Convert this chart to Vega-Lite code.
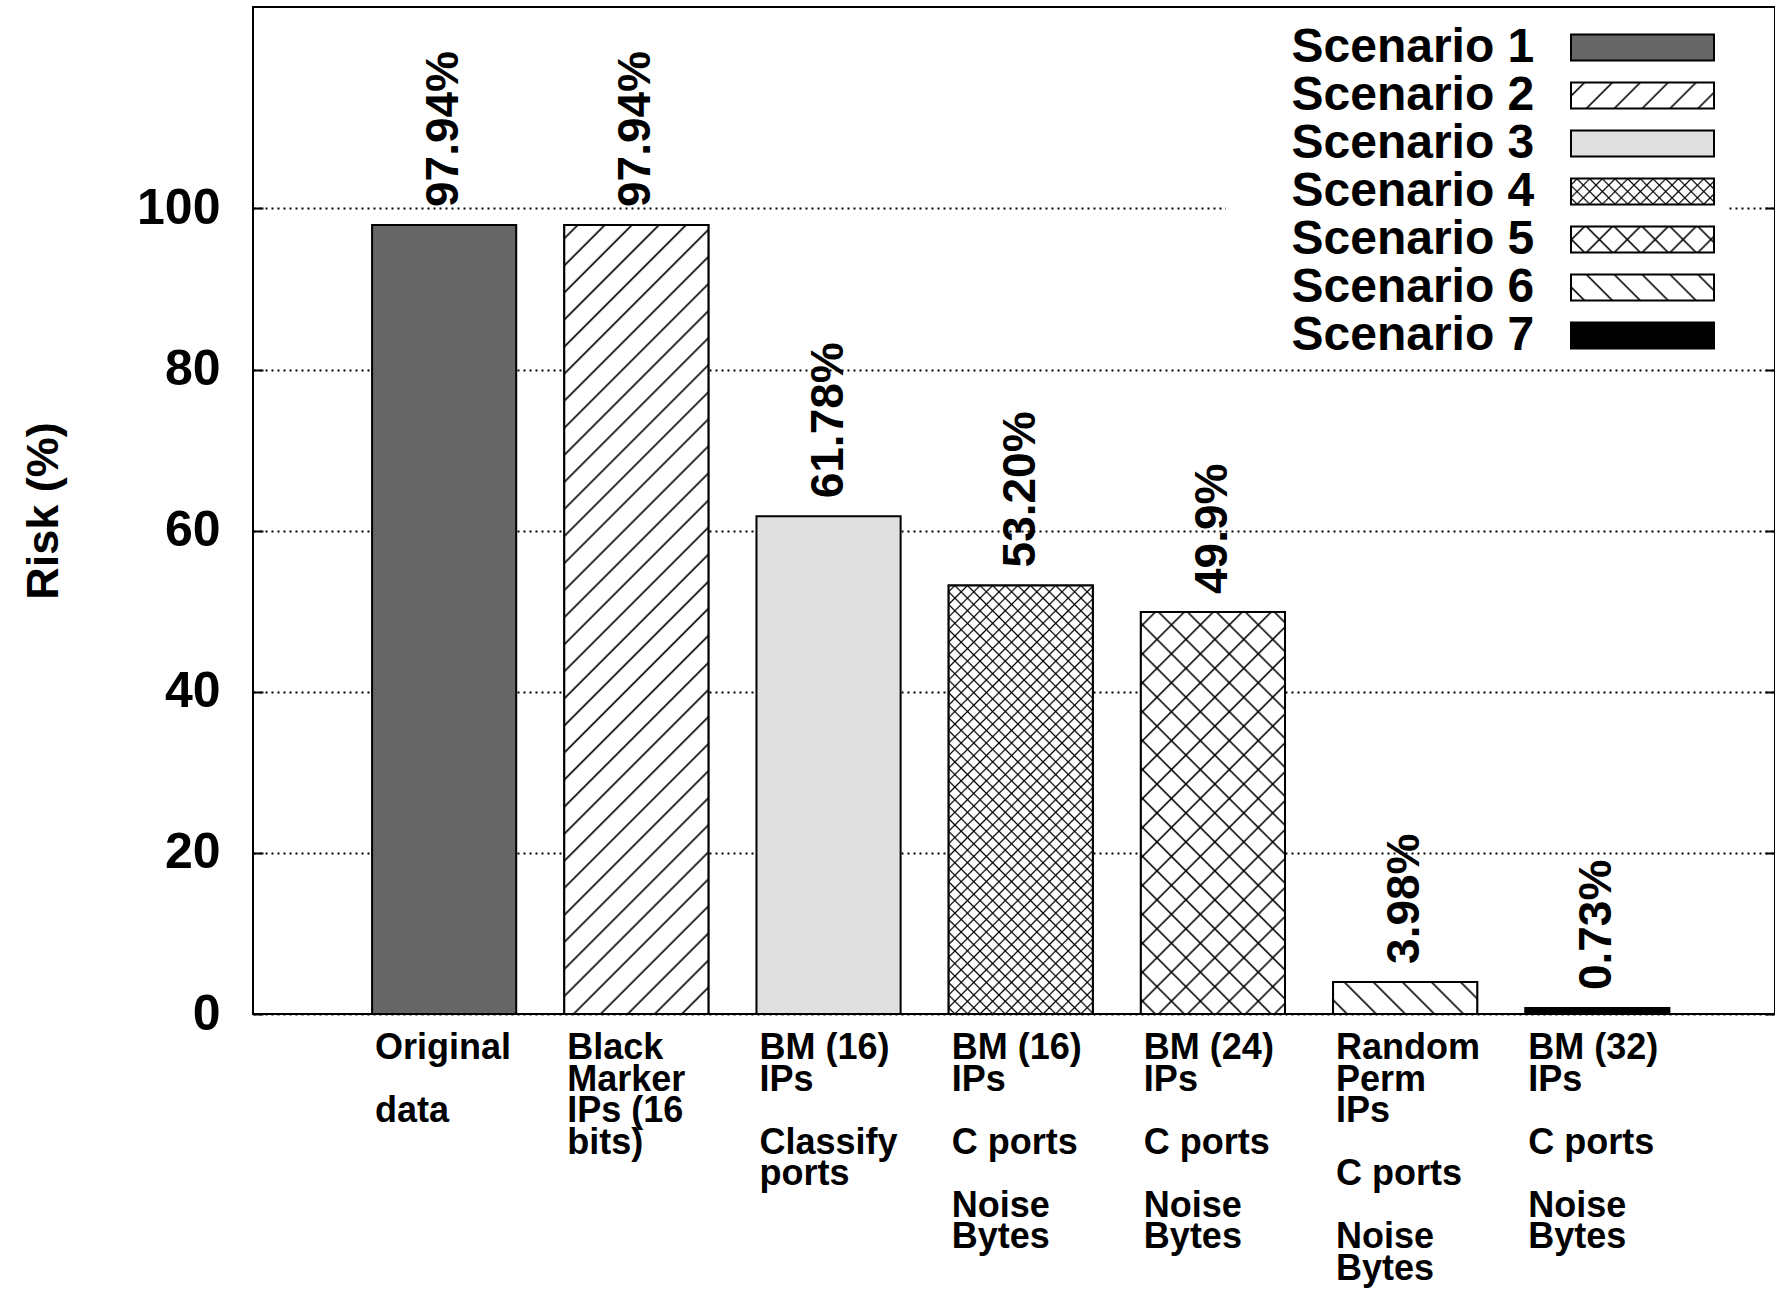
{
"$schema":"https://vega.github.io/schema/vega-lite/v6.json",
"width":1522,"height":1007,
"autosize":{"type":"none"},
"padding":{"left":253,"top":7,"right":0,"bottom":276},
"background":"white",
"config":{"view":{"stroke":"#000","strokeWidth":2},"text":{"font":"Liberation Sans"}},
"data":{"values":[
{"scenario":"Scenario 1","value":97.94,"text":"97.94%","label":["Original","\u2800","data"]},
{"scenario":"Scenario 2","value":97.94,"text":"97.94%","label":["Black","Marker","IPs (16","bits)"]},
{"scenario":"Scenario 3","value":61.78,"text":"61.78%","label":["BM (16)","IPs","\u2800","Classify","ports"]},
{"scenario":"Scenario 4","value":53.2,"text":"53.20%","label":["BM (16)","IPs","\u2800","C ports","\u2800","Noise","Bytes"]},
{"scenario":"Scenario 5","value":49.9,"text":"49.9%","label":["BM (24)","IPs","\u2800","C ports","\u2800","Noise","Bytes"]},
{"scenario":"Scenario 6","value":3.98,"text":"3.98%","label":["Random","Perm","IPs","\u2800","C ports","\u2800","Noise","Bytes"]},
{"scenario":"Scenario 7","value":0.73,"text":"0.73%","label":["BM (32)","IPs","\u2800","C ports","\u2800","Noise","Bytes"]}
]},
"resolve":{"scale":{"fill":"independent"},"legend":{"fill":"independent"},"axis":{"y":"independent"}},
"layer":[
{"mark":{"type":"bar","stroke":"#000","strokeWidth":2},
 "encoding":{
  "x":{"field":"scenario","type":"nominal","scale":{"paddingInner":0.25,"paddingOuter":0.5845,"align":0.53},"axis":null},
  "y":{"field":"value","type":"quantitative","scale":{"domain":[0,125],"nice":false,"zero":true},
       "axis":{"orient":"left","values":[0,20,40,60,80,100],"title":"Risk (%)","grid":true,"gridColor":"#000","gridDash":[2,4],"gridWidth":2,
               "tickSize":-10,"tickColor":"#000","tickWidth":2,"domain":false,
               "labelFont":"Liberation Sans","labelFontSize":50,"labelFontWeight":"bold","labelColor":"#000","labelPadding":43,
               "titleFont":"Liberation Sans","titleFontSize":45,"titleFontWeight":"bold","titleColor":"#000",
               "titleX":-210,"titleY":503.5,"titleAngle":270,"titleBaseline":"middle","titleAlign":"center"}},
  "fill":{"condition":[{"test":"datum.scenario === 'Scenario 1'","value":"#666666"},{"test":"datum.scenario === 'Scenario 3'","value":"#e0e0e0"},{"test":"datum.scenario === 'Scenario 7'","value":"#000000"}],"value":"#ffffff"}
 }},
{"transform":[{"filter":"datum.scenario === 'Scenario 2'"}],
 "mark":{"type":"bar","stroke":"#000","strokeWidth":2,"fill":{"gradient":"linear","x1":0,"y1":0,"x2":0.2091,"y2":1.1445,"stops":[
{"offset":0.012,"color":"#fff"},{"offset":0.0145,"color":"#000"},{"offset":0.017,"color":"#fff"},
{"offset":0.041,"color":"#fff"},{"offset":0.0435,"color":"#000"},{"offset":0.046,"color":"#fff"},
{"offset":0.07,"color":"#fff"},{"offset":0.0725,"color":"#000"},{"offset":0.075,"color":"#fff"},
{"offset":0.099,"color":"#fff"},{"offset":0.1015,"color":"#000"},{"offset":0.104,"color":"#fff"},
{"offset":0.128,"color":"#fff"},{"offset":0.1305,"color":"#000"},{"offset":0.133,"color":"#fff"},
{"offset":0.157,"color":"#fff"},{"offset":0.1595,"color":"#000"},{"offset":0.162,"color":"#fff"},
{"offset":0.186,"color":"#fff"},{"offset":0.1885,"color":"#000"},{"offset":0.191,"color":"#fff"},
{"offset":0.215,"color":"#fff"},{"offset":0.2175,"color":"#000"},{"offset":0.22,"color":"#fff"},
{"offset":0.244,"color":"#fff"},{"offset":0.2465,"color":"#000"},{"offset":0.249,"color":"#fff"},
{"offset":0.273,"color":"#fff"},{"offset":0.2755,"color":"#000"},{"offset":0.278,"color":"#fff"},
{"offset":0.302,"color":"#fff"},{"offset":0.3045,"color":"#000"},{"offset":0.307,"color":"#fff"},
{"offset":0.331,"color":"#fff"},{"offset":0.3335,"color":"#000"},{"offset":0.336,"color":"#fff"},
{"offset":0.36,"color":"#fff"},{"offset":0.3625,"color":"#000"},{"offset":0.365,"color":"#fff"},
{"offset":0.389,"color":"#fff"},{"offset":0.3915,"color":"#000"},{"offset":0.394,"color":"#fff"},
{"offset":0.418,"color":"#fff"},{"offset":0.4205,"color":"#000"},{"offset":0.423,"color":"#fff"},
{"offset":0.447,"color":"#fff"},{"offset":0.4495,"color":"#000"},{"offset":0.452,"color":"#fff"},
{"offset":0.476,"color":"#fff"},{"offset":0.4785,"color":"#000"},{"offset":0.481,"color":"#fff"},
{"offset":0.505,"color":"#fff"},{"offset":0.5075,"color":"#000"},{"offset":0.51,"color":"#fff"},
{"offset":0.534,"color":"#fff"},{"offset":0.5365,"color":"#000"},{"offset":0.539,"color":"#fff"},
{"offset":0.563,"color":"#fff"},{"offset":0.5655,"color":"#000"},{"offset":0.568,"color":"#fff"},
{"offset":0.592,"color":"#fff"},{"offset":0.5945,"color":"#000"},{"offset":0.597,"color":"#fff"},
{"offset":0.621,"color":"#fff"},{"offset":0.6235,"color":"#000"},{"offset":0.626,"color":"#fff"},
{"offset":0.65,"color":"#fff"},{"offset":0.6525,"color":"#000"},{"offset":0.655,"color":"#fff"},
{"offset":0.679,"color":"#fff"},{"offset":0.6815,"color":"#000"},{"offset":0.684,"color":"#fff"},
{"offset":0.708,"color":"#fff"},{"offset":0.7105,"color":"#000"},{"offset":0.713,"color":"#fff"},
{"offset":0.737,"color":"#fff"},{"offset":0.7395,"color":"#000"},{"offset":0.742,"color":"#fff"},
{"offset":0.766,"color":"#fff"},{"offset":0.7685,"color":"#000"},{"offset":0.771,"color":"#fff"},
{"offset":0.795,"color":"#fff"},{"offset":0.7975,"color":"#000"},{"offset":0.8,"color":"#fff"},
{"offset":0.824,"color":"#fff"},{"offset":0.8265,"color":"#000"},{"offset":0.829,"color":"#fff"},
{"offset":0.853,"color":"#fff"},{"offset":0.8555,"color":"#000"},{"offset":0.858,"color":"#fff"},
{"offset":0.882,"color":"#fff"},{"offset":0.8845,"color":"#000"},{"offset":0.887,"color":"#fff"},
{"offset":0.911,"color":"#fff"},{"offset":0.9135,"color":"#000"},{"offset":0.916,"color":"#fff"},
{"offset":0.94,"color":"#fff"},{"offset":0.9425,"color":"#000"},{"offset":0.945,"color":"#fff"},
{"offset":0.969,"color":"#fff"},{"offset":0.9715,"color":"#000"},{"offset":0.974,"color":"#fff"}]}},
 "encoding":{"x":{"field":"scenario","type":"nominal","axis":null},"y":{"field":"value","type":"quantitative","axis":null}}},
{"transform":[{"filter":"datum.scenario === 'Scenario 4'"}],
 "mark":{"type":"bar","stroke":"#000","strokeWidth":2,"fill":{"gradient":"linear","x1":0,"y1":0,"x2":0.4038,"y2":1.2005,"stops":[
{"offset":0.008,"color":"#fff"},{"offset":0.011,"color":"#000"},{"offset":0.014,"color":"#fff"},
{"offset":0.03,"color":"#fff"},{"offset":0.033,"color":"#000"},{"offset":0.036,"color":"#fff"},
{"offset":0.052,"color":"#fff"},{"offset":0.055,"color":"#000"},{"offset":0.058,"color":"#fff"},
{"offset":0.074,"color":"#fff"},{"offset":0.077,"color":"#000"},{"offset":0.08,"color":"#fff"},
{"offset":0.096,"color":"#fff"},{"offset":0.099,"color":"#000"},{"offset":0.102,"color":"#fff"},
{"offset":0.118,"color":"#fff"},{"offset":0.121,"color":"#000"},{"offset":0.124,"color":"#fff"},
{"offset":0.14,"color":"#fff"},{"offset":0.143,"color":"#000"},{"offset":0.146,"color":"#fff"},
{"offset":0.162,"color":"#fff"},{"offset":0.165,"color":"#000"},{"offset":0.168,"color":"#fff"},
{"offset":0.184,"color":"#fff"},{"offset":0.187,"color":"#000"},{"offset":0.19,"color":"#fff"},
{"offset":0.206,"color":"#fff"},{"offset":0.209,"color":"#000"},{"offset":0.212,"color":"#fff"},
{"offset":0.228,"color":"#fff"},{"offset":0.231,"color":"#000"},{"offset":0.234,"color":"#fff"},
{"offset":0.25,"color":"#fff"},{"offset":0.253,"color":"#000"},{"offset":0.256,"color":"#fff"},
{"offset":0.272,"color":"#fff"},{"offset":0.275,"color":"#000"},{"offset":0.278,"color":"#fff"},
{"offset":0.294,"color":"#fff"},{"offset":0.297,"color":"#000"},{"offset":0.3,"color":"#fff"},
{"offset":0.316,"color":"#fff"},{"offset":0.319,"color":"#000"},{"offset":0.322,"color":"#fff"},
{"offset":0.338,"color":"#fff"},{"offset":0.341,"color":"#000"},{"offset":0.344,"color":"#fff"},
{"offset":0.36,"color":"#fff"},{"offset":0.363,"color":"#000"},{"offset":0.366,"color":"#fff"},
{"offset":0.382,"color":"#fff"},{"offset":0.385,"color":"#000"},{"offset":0.388,"color":"#fff"},
{"offset":0.404,"color":"#fff"},{"offset":0.407,"color":"#000"},{"offset":0.41,"color":"#fff"},
{"offset":0.426,"color":"#fff"},{"offset":0.429,"color":"#000"},{"offset":0.432,"color":"#fff"},
{"offset":0.448,"color":"#fff"},{"offset":0.451,"color":"#000"},{"offset":0.454,"color":"#fff"},
{"offset":0.47,"color":"#fff"},{"offset":0.473,"color":"#000"},{"offset":0.476,"color":"#fff"},
{"offset":0.492,"color":"#fff"},{"offset":0.495,"color":"#000"},{"offset":0.498,"color":"#fff"},
{"offset":0.514,"color":"#fff"},{"offset":0.517,"color":"#000"},{"offset":0.52,"color":"#fff"},
{"offset":0.536,"color":"#fff"},{"offset":0.539,"color":"#000"},{"offset":0.542,"color":"#fff"},
{"offset":0.558,"color":"#fff"},{"offset":0.561,"color":"#000"},{"offset":0.564,"color":"#fff"},
{"offset":0.58,"color":"#fff"},{"offset":0.583,"color":"#000"},{"offset":0.586,"color":"#fff"},
{"offset":0.602,"color":"#fff"},{"offset":0.605,"color":"#000"},{"offset":0.608,"color":"#fff"},
{"offset":0.624,"color":"#fff"},{"offset":0.627,"color":"#000"},{"offset":0.63,"color":"#fff"},
{"offset":0.646,"color":"#fff"},{"offset":0.649,"color":"#000"},{"offset":0.652,"color":"#fff"},
{"offset":0.668,"color":"#fff"},{"offset":0.671,"color":"#000"},{"offset":0.674,"color":"#fff"},
{"offset":0.69,"color":"#fff"},{"offset":0.693,"color":"#000"},{"offset":0.696,"color":"#fff"},
{"offset":0.712,"color":"#fff"},{"offset":0.715,"color":"#000"},{"offset":0.718,"color":"#fff"},
{"offset":0.734,"color":"#fff"},{"offset":0.737,"color":"#000"},{"offset":0.74,"color":"#fff"},
{"offset":0.756,"color":"#fff"},{"offset":0.759,"color":"#000"},{"offset":0.762,"color":"#fff"},
{"offset":0.778,"color":"#fff"},{"offset":0.781,"color":"#000"},{"offset":0.784,"color":"#fff"},
{"offset":0.8,"color":"#fff"},{"offset":0.803,"color":"#000"},{"offset":0.806,"color":"#fff"},
{"offset":0.822,"color":"#fff"},{"offset":0.825,"color":"#000"},{"offset":0.828,"color":"#fff"},
{"offset":0.844,"color":"#fff"},{"offset":0.847,"color":"#000"},{"offset":0.85,"color":"#fff"},
{"offset":0.866,"color":"#fff"},{"offset":0.869,"color":"#000"},{"offset":0.872,"color":"#fff"},
{"offset":0.888,"color":"#fff"},{"offset":0.891,"color":"#000"},{"offset":0.894,"color":"#fff"},
{"offset":0.91,"color":"#fff"},{"offset":0.913,"color":"#000"},{"offset":0.916,"color":"#fff"},
{"offset":0.932,"color":"#fff"},{"offset":0.935,"color":"#000"},{"offset":0.938,"color":"#fff"},
{"offset":0.954,"color":"#fff"},{"offset":0.957,"color":"#000"},{"offset":0.96,"color":"#fff"},
{"offset":0.976,"color":"#fff"},{"offset":0.979,"color":"#000"},{"offset":0.982,"color":"#fff"}]}},
 "encoding":{"x":{"field":"scenario","type":"nominal","axis":null},"y":{"field":"value","type":"quantitative","axis":null}}},
{"transform":[{"filter":"datum.scenario === 'Scenario 4'"}],
 "mark":{"type":"bar","fill":{"gradient":"linear","x1":0,"y1":1,"x2":0.4038,"y2":-0.2005,"stops":[
{"offset":0.008,"color":"rgba(0,0,0,0)"},{"offset":0.011,"color":"#000"},{"offset":0.014,"color":"rgba(0,0,0,0)"},
{"offset":0.03,"color":"rgba(0,0,0,0)"},{"offset":0.033,"color":"#000"},{"offset":0.036,"color":"rgba(0,0,0,0)"},
{"offset":0.052,"color":"rgba(0,0,0,0)"},{"offset":0.055,"color":"#000"},{"offset":0.058,"color":"rgba(0,0,0,0)"},
{"offset":0.074,"color":"rgba(0,0,0,0)"},{"offset":0.077,"color":"#000"},{"offset":0.08,"color":"rgba(0,0,0,0)"},
{"offset":0.096,"color":"rgba(0,0,0,0)"},{"offset":0.099,"color":"#000"},{"offset":0.102,"color":"rgba(0,0,0,0)"},
{"offset":0.118,"color":"rgba(0,0,0,0)"},{"offset":0.121,"color":"#000"},{"offset":0.124,"color":"rgba(0,0,0,0)"},
{"offset":0.14,"color":"rgba(0,0,0,0)"},{"offset":0.143,"color":"#000"},{"offset":0.146,"color":"rgba(0,0,0,0)"},
{"offset":0.162,"color":"rgba(0,0,0,0)"},{"offset":0.165,"color":"#000"},{"offset":0.168,"color":"rgba(0,0,0,0)"},
{"offset":0.184,"color":"rgba(0,0,0,0)"},{"offset":0.187,"color":"#000"},{"offset":0.19,"color":"rgba(0,0,0,0)"},
{"offset":0.206,"color":"rgba(0,0,0,0)"},{"offset":0.209,"color":"#000"},{"offset":0.212,"color":"rgba(0,0,0,0)"},
{"offset":0.228,"color":"rgba(0,0,0,0)"},{"offset":0.231,"color":"#000"},{"offset":0.234,"color":"rgba(0,0,0,0)"},
{"offset":0.25,"color":"rgba(0,0,0,0)"},{"offset":0.253,"color":"#000"},{"offset":0.256,"color":"rgba(0,0,0,0)"},
{"offset":0.272,"color":"rgba(0,0,0,0)"},{"offset":0.275,"color":"#000"},{"offset":0.278,"color":"rgba(0,0,0,0)"},
{"offset":0.294,"color":"rgba(0,0,0,0)"},{"offset":0.297,"color":"#000"},{"offset":0.3,"color":"rgba(0,0,0,0)"},
{"offset":0.316,"color":"rgba(0,0,0,0)"},{"offset":0.319,"color":"#000"},{"offset":0.322,"color":"rgba(0,0,0,0)"},
{"offset":0.338,"color":"rgba(0,0,0,0)"},{"offset":0.341,"color":"#000"},{"offset":0.344,"color":"rgba(0,0,0,0)"},
{"offset":0.36,"color":"rgba(0,0,0,0)"},{"offset":0.363,"color":"#000"},{"offset":0.366,"color":"rgba(0,0,0,0)"},
{"offset":0.382,"color":"rgba(0,0,0,0)"},{"offset":0.385,"color":"#000"},{"offset":0.388,"color":"rgba(0,0,0,0)"},
{"offset":0.404,"color":"rgba(0,0,0,0)"},{"offset":0.407,"color":"#000"},{"offset":0.41,"color":"rgba(0,0,0,0)"},
{"offset":0.426,"color":"rgba(0,0,0,0)"},{"offset":0.429,"color":"#000"},{"offset":0.432,"color":"rgba(0,0,0,0)"},
{"offset":0.448,"color":"rgba(0,0,0,0)"},{"offset":0.451,"color":"#000"},{"offset":0.454,"color":"rgba(0,0,0,0)"},
{"offset":0.47,"color":"rgba(0,0,0,0)"},{"offset":0.473,"color":"#000"},{"offset":0.476,"color":"rgba(0,0,0,0)"},
{"offset":0.492,"color":"rgba(0,0,0,0)"},{"offset":0.495,"color":"#000"},{"offset":0.498,"color":"rgba(0,0,0,0)"},
{"offset":0.514,"color":"rgba(0,0,0,0)"},{"offset":0.517,"color":"#000"},{"offset":0.52,"color":"rgba(0,0,0,0)"},
{"offset":0.536,"color":"rgba(0,0,0,0)"},{"offset":0.539,"color":"#000"},{"offset":0.542,"color":"rgba(0,0,0,0)"},
{"offset":0.558,"color":"rgba(0,0,0,0)"},{"offset":0.561,"color":"#000"},{"offset":0.564,"color":"rgba(0,0,0,0)"},
{"offset":0.58,"color":"rgba(0,0,0,0)"},{"offset":0.583,"color":"#000"},{"offset":0.586,"color":"rgba(0,0,0,0)"},
{"offset":0.602,"color":"rgba(0,0,0,0)"},{"offset":0.605,"color":"#000"},{"offset":0.608,"color":"rgba(0,0,0,0)"},
{"offset":0.624,"color":"rgba(0,0,0,0)"},{"offset":0.627,"color":"#000"},{"offset":0.63,"color":"rgba(0,0,0,0)"},
{"offset":0.646,"color":"rgba(0,0,0,0)"},{"offset":0.649,"color":"#000"},{"offset":0.652,"color":"rgba(0,0,0,0)"},
{"offset":0.668,"color":"rgba(0,0,0,0)"},{"offset":0.671,"color":"#000"},{"offset":0.674,"color":"rgba(0,0,0,0)"},
{"offset":0.69,"color":"rgba(0,0,0,0)"},{"offset":0.693,"color":"#000"},{"offset":0.696,"color":"rgba(0,0,0,0)"},
{"offset":0.712,"color":"rgba(0,0,0,0)"},{"offset":0.715,"color":"#000"},{"offset":0.718,"color":"rgba(0,0,0,0)"},
{"offset":0.734,"color":"rgba(0,0,0,0)"},{"offset":0.737,"color":"#000"},{"offset":0.74,"color":"rgba(0,0,0,0)"},
{"offset":0.756,"color":"rgba(0,0,0,0)"},{"offset":0.759,"color":"#000"},{"offset":0.762,"color":"rgba(0,0,0,0)"},
{"offset":0.778,"color":"rgba(0,0,0,0)"},{"offset":0.781,"color":"#000"},{"offset":0.784,"color":"rgba(0,0,0,0)"},
{"offset":0.8,"color":"rgba(0,0,0,0)"},{"offset":0.803,"color":"#000"},{"offset":0.806,"color":"rgba(0,0,0,0)"},
{"offset":0.822,"color":"rgba(0,0,0,0)"},{"offset":0.825,"color":"#000"},{"offset":0.828,"color":"rgba(0,0,0,0)"},
{"offset":0.844,"color":"rgba(0,0,0,0)"},{"offset":0.847,"color":"#000"},{"offset":0.85,"color":"rgba(0,0,0,0)"},
{"offset":0.866,"color":"rgba(0,0,0,0)"},{"offset":0.869,"color":"#000"},{"offset":0.872,"color":"rgba(0,0,0,0)"},
{"offset":0.888,"color":"rgba(0,0,0,0)"},{"offset":0.891,"color":"#000"},{"offset":0.894,"color":"rgba(0,0,0,0)"},
{"offset":0.91,"color":"rgba(0,0,0,0)"},{"offset":0.913,"color":"#000"},{"offset":0.916,"color":"rgba(0,0,0,0)"},
{"offset":0.932,"color":"rgba(0,0,0,0)"},{"offset":0.935,"color":"#000"},{"offset":0.938,"color":"rgba(0,0,0,0)"},
{"offset":0.954,"color":"rgba(0,0,0,0)"},{"offset":0.957,"color":"#000"},{"offset":0.96,"color":"rgba(0,0,0,0)"},
{"offset":0.976,"color":"rgba(0,0,0,0)"},{"offset":0.979,"color":"#000"},{"offset":0.982,"color":"rgba(0,0,0,0)"}]}},
 "encoding":{"x":{"field":"scenario","type":"nominal","axis":null},"y":{"field":"value","type":"quantitative","axis":null}}},
{"transform":[{"filter":"datum.scenario === 'Scenario 5'"}],
 "mark":{"type":"bar","stroke":"#000","strokeWidth":2,"fill":{"gradient":"linear","x1":0,"y1":0,"x2":0.4317,"y2":1.2038,"stops":[
{"offset":0.0225,"color":"#fff"},{"offset":0.0265,"color":"#000"},{"offset":0.0305,"color":"#fff"},
{"offset":0.0755,"color":"#fff"},{"offset":0.0795,"color":"#000"},{"offset":0.0835,"color":"#fff"},
{"offset":0.1285,"color":"#fff"},{"offset":0.1325,"color":"#000"},{"offset":0.1365,"color":"#fff"},
{"offset":0.1815,"color":"#fff"},{"offset":0.1855,"color":"#000"},{"offset":0.1895,"color":"#fff"},
{"offset":0.2345,"color":"#fff"},{"offset":0.2385,"color":"#000"},{"offset":0.2425,"color":"#fff"},
{"offset":0.2875,"color":"#fff"},{"offset":0.2915,"color":"#000"},{"offset":0.2955,"color":"#fff"},
{"offset":0.3405,"color":"#fff"},{"offset":0.3445,"color":"#000"},{"offset":0.3485,"color":"#fff"},
{"offset":0.3935,"color":"#fff"},{"offset":0.3975,"color":"#000"},{"offset":0.4015,"color":"#fff"},
{"offset":0.4465,"color":"#fff"},{"offset":0.4505,"color":"#000"},{"offset":0.4545,"color":"#fff"},
{"offset":0.4995,"color":"#fff"},{"offset":0.5035,"color":"#000"},{"offset":0.5075,"color":"#fff"},
{"offset":0.5525,"color":"#fff"},{"offset":0.5565,"color":"#000"},{"offset":0.5605,"color":"#fff"},
{"offset":0.6055,"color":"#fff"},{"offset":0.6095,"color":"#000"},{"offset":0.6135,"color":"#fff"},
{"offset":0.6585,"color":"#fff"},{"offset":0.6625,"color":"#000"},{"offset":0.6665,"color":"#fff"},
{"offset":0.7115,"color":"#fff"},{"offset":0.7155,"color":"#000"},{"offset":0.7195,"color":"#fff"},
{"offset":0.7645,"color":"#fff"},{"offset":0.7685,"color":"#000"},{"offset":0.7725,"color":"#fff"},
{"offset":0.8175,"color":"#fff"},{"offset":0.8215,"color":"#000"},{"offset":0.8255,"color":"#fff"},
{"offset":0.8705,"color":"#fff"},{"offset":0.8745,"color":"#000"},{"offset":0.8785,"color":"#fff"},
{"offset":0.9235,"color":"#fff"},{"offset":0.9275,"color":"#000"},{"offset":0.9315,"color":"#fff"},
{"offset":0.9765,"color":"#fff"},{"offset":0.9805,"color":"#000"},{"offset":0.9845,"color":"#fff"}]}},
 "encoding":{"x":{"field":"scenario","type":"nominal","axis":null},"y":{"field":"value","type":"quantitative","axis":null}}},
{"transform":[{"filter":"datum.scenario === 'Scenario 5'"}],
 "mark":{"type":"bar","fill":{"gradient":"linear","x1":0,"y1":1,"x2":0.4317,"y2":-0.2038,"stops":[
{"offset":0.0225,"color":"rgba(0,0,0,0)"},{"offset":0.0265,"color":"#000"},{"offset":0.0305,"color":"rgba(0,0,0,0)"},
{"offset":0.0755,"color":"rgba(0,0,0,0)"},{"offset":0.0795,"color":"#000"},{"offset":0.0835,"color":"rgba(0,0,0,0)"},
{"offset":0.1285,"color":"rgba(0,0,0,0)"},{"offset":0.1325,"color":"#000"},{"offset":0.1365,"color":"rgba(0,0,0,0)"},
{"offset":0.1815,"color":"rgba(0,0,0,0)"},{"offset":0.1855,"color":"#000"},{"offset":0.1895,"color":"rgba(0,0,0,0)"},
{"offset":0.2345,"color":"rgba(0,0,0,0)"},{"offset":0.2385,"color":"#000"},{"offset":0.2425,"color":"rgba(0,0,0,0)"},
{"offset":0.2875,"color":"rgba(0,0,0,0)"},{"offset":0.2915,"color":"#000"},{"offset":0.2955,"color":"rgba(0,0,0,0)"},
{"offset":0.3405,"color":"rgba(0,0,0,0)"},{"offset":0.3445,"color":"#000"},{"offset":0.3485,"color":"rgba(0,0,0,0)"},
{"offset":0.3935,"color":"rgba(0,0,0,0)"},{"offset":0.3975,"color":"#000"},{"offset":0.4015,"color":"rgba(0,0,0,0)"},
{"offset":0.4465,"color":"rgba(0,0,0,0)"},{"offset":0.4505,"color":"#000"},{"offset":0.4545,"color":"rgba(0,0,0,0)"},
{"offset":0.4995,"color":"rgba(0,0,0,0)"},{"offset":0.5035,"color":"#000"},{"offset":0.5075,"color":"rgba(0,0,0,0)"},
{"offset":0.5525,"color":"rgba(0,0,0,0)"},{"offset":0.5565,"color":"#000"},{"offset":0.5605,"color":"rgba(0,0,0,0)"},
{"offset":0.6055,"color":"rgba(0,0,0,0)"},{"offset":0.6095,"color":"#000"},{"offset":0.6135,"color":"rgba(0,0,0,0)"},
{"offset":0.6585,"color":"rgba(0,0,0,0)"},{"offset":0.6625,"color":"#000"},{"offset":0.6665,"color":"rgba(0,0,0,0)"},
{"offset":0.7115,"color":"rgba(0,0,0,0)"},{"offset":0.7155,"color":"#000"},{"offset":0.7195,"color":"rgba(0,0,0,0)"},
{"offset":0.7645,"color":"rgba(0,0,0,0)"},{"offset":0.7685,"color":"#000"},{"offset":0.7725,"color":"rgba(0,0,0,0)"},
{"offset":0.8175,"color":"rgba(0,0,0,0)"},{"offset":0.8215,"color":"#000"},{"offset":0.8255,"color":"rgba(0,0,0,0)"},
{"offset":0.8705,"color":"rgba(0,0,0,0)"},{"offset":0.8745,"color":"#000"},{"offset":0.8785,"color":"rgba(0,0,0,0)"},
{"offset":0.9235,"color":"rgba(0,0,0,0)"},{"offset":0.9275,"color":"#000"},{"offset":0.9315,"color":"rgba(0,0,0,0)"},
{"offset":0.9765,"color":"rgba(0,0,0,0)"},{"offset":0.9805,"color":"#000"},{"offset":0.9845,"color":"rgba(0,0,0,0)"}]}},
 "encoding":{"x":{"field":"scenario","type":"nominal","axis":null},"y":{"field":"value","type":"quantitative","axis":null}}},
{"transform":[{"filter":"datum.scenario === 'Scenario 6'"}],
 "mark":{"type":"bar","stroke":"#000","strokeWidth":2,"fill":{"gradient":"linear","x1":0,"y1":1,"x2":1.1648,"y2":0.7409,"stops":[
{"offset":0.067,"color":"#fff"},{"offset":0.08,"color":"#000"},{"offset":0.093,"color":"#fff"},
{"offset":0.232,"color":"#fff"},{"offset":0.245,"color":"#000"},{"offset":0.258,"color":"#fff"},
{"offset":0.397,"color":"#fff"},{"offset":0.41,"color":"#000"},{"offset":0.423,"color":"#fff"},
{"offset":0.562,"color":"#fff"},{"offset":0.575,"color":"#000"},{"offset":0.588,"color":"#fff"},
{"offset":0.727,"color":"#fff"},{"offset":0.74,"color":"#000"},{"offset":0.753,"color":"#fff"},
{"offset":0.892,"color":"#fff"},{"offset":0.905,"color":"#000"},{"offset":0.918,"color":"#fff"}]}},
 "encoding":{"x":{"field":"scenario","type":"nominal","axis":null},"y":{"field":"value","type":"quantitative","axis":null}}},
{"mark":{"type":"bar","stroke":"#000","strokeWidth":2},
 "encoding":{"x":{"field":"scenario","type":"nominal","axis":null},"y":{"datum":0,"axis":null},"y2":{"datum":0},
  "fill":{"field":"scenario","type":"nominal",
   "scale":{"range":["#666666",
    {"expr":"{gradient:'linear',x1:0,y1:0,x2:1.144,y2:0.208,stops:[{offset:0.067,color:'#fff'},{offset:0.08,color:'#000'},{offset:0.093,color:'#fff'},{offset:0.232,color:'#fff'},{offset:0.245,color:'#000'},{offset:0.258,color:'#fff'},{offset:0.397,color:'#fff'},{offset:0.41,color:'#000'},{offset:0.423,color:'#fff'},{offset:0.562,color:'#fff'},{offset:0.575,color:'#000'},{offset:0.588,color:'#fff'},{offset:0.727,color:'#fff'},{offset:0.74,color:'#000'},{offset:0.753,color:'#fff'},{offset:0.892,color:'#fff'},{offset:0.905,color:'#000'},{offset:0.918,color:'#fff'}]}"},
    "#e0e0e0",
    {"expr":"{gradient:'linear',x1:0,y1:0,x2:1.144,y2:0.208,stops:[{offset:0.0275,color:'#fff'},{offset:0.0375,color:'#000'},{offset:0.0475,color:'#fff'},{offset:0.1025,color:'#fff'},{offset:0.1125,color:'#000'},{offset:0.1225,color:'#fff'},{offset:0.1775,color:'#fff'},{offset:0.1875,color:'#000'},{offset:0.1975,color:'#fff'},{offset:0.2525,color:'#fff'},{offset:0.2625,color:'#000'},{offset:0.2725,color:'#fff'},{offset:0.3275,color:'#fff'},{offset:0.3375,color:'#000'},{offset:0.3475,color:'#fff'},{offset:0.4025,color:'#fff'},{offset:0.4125,color:'#000'},{offset:0.4225,color:'#fff'},{offset:0.4775,color:'#fff'},{offset:0.4875,color:'#000'},{offset:0.4975,color:'#fff'},{offset:0.5525,color:'#fff'},{offset:0.5625,color:'#000'},{offset:0.5725,color:'#fff'},{offset:0.6275,color:'#fff'},{offset:0.6375,color:'#000'},{offset:0.6475,color:'#fff'},{offset:0.7025,color:'#fff'},{offset:0.7125,color:'#000'},{offset:0.7225,color:'#fff'},{offset:0.7775,color:'#fff'},{offset:0.7875,color:'#000'},{offset:0.7975,color:'#fff'},{offset:0.8525,color:'#fff'},{offset:0.8625,color:'#000'},{offset:0.8725,color:'#fff'},{offset:0.9275,color:'#fff'},{offset:0.9375,color:'#000'},{offset:0.9475,color:'#fff'}]}"},
    {"expr":"{gradient:'linear',x1:0,y1:0,x2:1.144,y2:0.208,stops:[{offset:0.067,color:'#fff'},{offset:0.08,color:'#000'},{offset:0.093,color:'#fff'},{offset:0.232,color:'#fff'},{offset:0.245,color:'#000'},{offset:0.258,color:'#fff'},{offset:0.397,color:'#fff'},{offset:0.41,color:'#000'},{offset:0.423,color:'#fff'},{offset:0.562,color:'#fff'},{offset:0.575,color:'#000'},{offset:0.588,color:'#fff'},{offset:0.727,color:'#fff'},{offset:0.74,color:'#000'},{offset:0.753,color:'#fff'},{offset:0.892,color:'#fff'},{offset:0.905,color:'#000'},{offset:0.918,color:'#fff'}]}"},
    {"expr":"{gradient:'linear',x1:0,y1:1,x2:1.144,y2:0.792,stops:[{offset:0.067,color:'#fff'},{offset:0.08,color:'#000'},{offset:0.093,color:'#fff'},{offset:0.232,color:'#fff'},{offset:0.245,color:'#000'},{offset:0.258,color:'#fff'},{offset:0.397,color:'#fff'},{offset:0.41,color:'#000'},{offset:0.423,color:'#fff'},{offset:0.562,color:'#fff'},{offset:0.575,color:'#000'},{offset:0.588,color:'#fff'},{offset:0.727,color:'#fff'},{offset:0.74,color:'#000'},{offset:0.753,color:'#fff'},{offset:0.892,color:'#fff'},{offset:0.905,color:'#000'},{offset:0.918,color:'#fff'}]}"},
    "#000000"]},
   "legend":{"title":null,"orient":"none","direction":"vertical","legendX":973,"legendY":8.5,"padding":8,"fillColor":"white",
     "symbolType":"M-5.5,-1H5.5V1H-5.5Z","symbolSize":676,"symbolStrokeWidth":2,"symbolStrokeColor":"#000","symbolOffset":384.5,
     "labelOffset":-375,"labelFont":"Liberation Sans","labelFontSize":48,"labelFontWeight":"bold","labelColor":"#000","labelLimit":0,
     "rowPadding":0,"labelAlign":"left","labelBaseline":"middle"}}}},
{"mark":{"type":"bar"},
 "encoding":{"x":{"field":"scenario","type":"nominal","axis":null},"y":{"datum":0,"axis":null},"y2":{"datum":0},
  "fill":{"field":"scenario","type":"nominal",
   "scale":{"range":["transparent","transparent","transparent",
    {"expr":"{gradient:'linear',x1:0,y1:1,x2:1.144,y2:0.792,stops:[{offset:0.0275,color:'rgba(0,0,0,0)'},{offset:0.0375,color:'#000'},{offset:0.0475,color:'rgba(0,0,0,0)'},{offset:0.1025,color:'rgba(0,0,0,0)'},{offset:0.1125,color:'#000'},{offset:0.1225,color:'rgba(0,0,0,0)'},{offset:0.1775,color:'rgba(0,0,0,0)'},{offset:0.1875,color:'#000'},{offset:0.1975,color:'rgba(0,0,0,0)'},{offset:0.2525,color:'rgba(0,0,0,0)'},{offset:0.2625,color:'#000'},{offset:0.2725,color:'rgba(0,0,0,0)'},{offset:0.3275,color:'rgba(0,0,0,0)'},{offset:0.3375,color:'#000'},{offset:0.3475,color:'rgba(0,0,0,0)'},{offset:0.4025,color:'rgba(0,0,0,0)'},{offset:0.4125,color:'#000'},{offset:0.4225,color:'rgba(0,0,0,0)'},{offset:0.4775,color:'rgba(0,0,0,0)'},{offset:0.4875,color:'#000'},{offset:0.4975,color:'rgba(0,0,0,0)'},{offset:0.5525,color:'rgba(0,0,0,0)'},{offset:0.5625,color:'#000'},{offset:0.5725,color:'rgba(0,0,0,0)'},{offset:0.6275,color:'rgba(0,0,0,0)'},{offset:0.6375,color:'#000'},{offset:0.6475,color:'rgba(0,0,0,0)'},{offset:0.7025,color:'rgba(0,0,0,0)'},{offset:0.7125,color:'#000'},{offset:0.7225,color:'rgba(0,0,0,0)'},{offset:0.7775,color:'rgba(0,0,0,0)'},{offset:0.7875,color:'#000'},{offset:0.7975,color:'rgba(0,0,0,0)'},{offset:0.8525,color:'rgba(0,0,0,0)'},{offset:0.8625,color:'#000'},{offset:0.8725,color:'rgba(0,0,0,0)'},{offset:0.9275,color:'rgba(0,0,0,0)'},{offset:0.9375,color:'#000'},{offset:0.9475,color:'rgba(0,0,0,0)'}]}"},
    {"expr":"{gradient:'linear',x1:0,y1:1,x2:1.144,y2:0.792,stops:[{offset:0.067,color:'rgba(0,0,0,0)'},{offset:0.08,color:'#000'},{offset:0.093,color:'rgba(0,0,0,0)'},{offset:0.232,color:'rgba(0,0,0,0)'},{offset:0.245,color:'#000'},{offset:0.258,color:'rgba(0,0,0,0)'},{offset:0.397,color:'rgba(0,0,0,0)'},{offset:0.41,color:'#000'},{offset:0.423,color:'rgba(0,0,0,0)'},{offset:0.562,color:'rgba(0,0,0,0)'},{offset:0.575,color:'#000'},{offset:0.588,color:'rgba(0,0,0,0)'},{offset:0.727,color:'rgba(0,0,0,0)'},{offset:0.74,color:'#000'},{offset:0.753,color:'rgba(0,0,0,0)'},{offset:0.892,color:'rgba(0,0,0,0)'},{offset:0.905,color:'#000'},{offset:0.918,color:'rgba(0,0,0,0)'}]}"},
    "transparent","transparent"]},
   "legend":{"title":null,"orient":"none","direction":"vertical","legendX":973,"legendY":8.5,"padding":8,
     "symbolType":"M-5.5,-1H5.5V1H-5.5Z","symbolSize":676,"symbolStrokeWidth":0,"symbolOffset":384.5,
     "labelOffset":-375,"labelFont":"Liberation Sans","labelFontSize":48,"labelFontWeight":"bold","labelOpacity":0,"labelLimit":0,
     "rowPadding":0,"labelAlign":"left","labelBaseline":"middle"}}}},
{"mark":{"type":"text","angle":270,"align":"left","baseline":"middle","dx":18,"font":"Liberation Sans","fontSize":46,"fontWeight":"bold","color":"#000"},
 "encoding":{"x":{"field":"scenario","type":"nominal","axis":null},
  "y":{"field":"value","type":"quantitative",
       "axis":{"orient":"right","values":[0,20,40,60,80,100],"labels":false,"ticks":true,"tickSize":-10,"tickColor":"#000","tickWidth":2,"grid":false,"domain":false,"title":null}},
  "text":{"field":"text","type":"nominal"}}},
{"mark":{"type":"text","align":"left","baseline":"top","dx":3,"dy":17,"lineHeight":31.5,"font":"Liberation Sans","fontSize":36,"fontWeight":"bold","color":"#000"},
 "encoding":{"x":{"field":"scenario","type":"nominal","bandPosition":0,"axis":null},"y":{"datum":0,"axis":null},"text":{"field":"label","type":"nominal"}}}
]
}
